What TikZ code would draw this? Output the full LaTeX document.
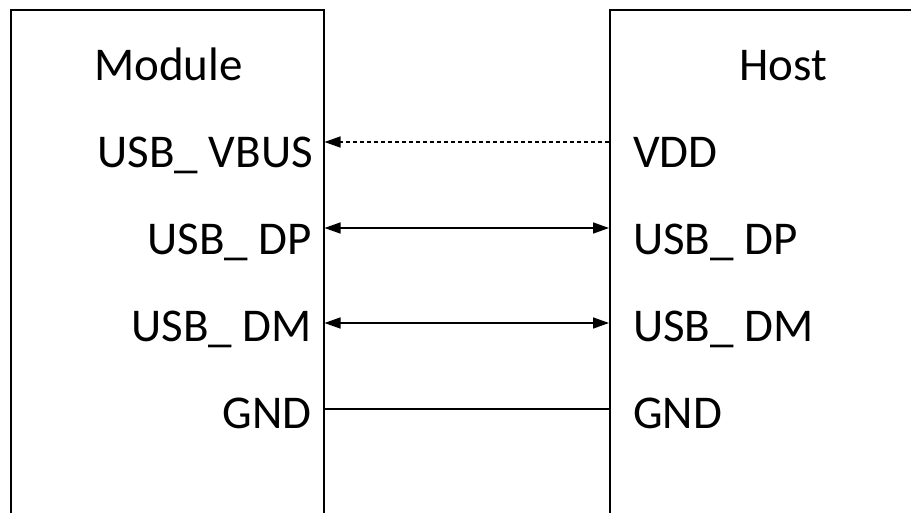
\documentclass[tikz,border=0pt]{standalone}
\usepackage{fontspec}
\setmainfont{Carlito}
\usetikzlibrary{arrows.meta}
\begin{document}
\begin{tikzpicture}[x=1pt,y=-1pt,
  box/.style={draw,line width=1.5pt,rectangle,inner sep=0pt},
  lbl/.style={inner sep=0pt,font=\fontsize{47}{50}\selectfont},
  wire/.style={line width=1.5pt},
  tip/.style={-{Triangle[length=16pt,width=11pt]}},
  both/.style={{Triangle[length=16pt,width=11pt]}-{Triangle[length=16pt,width=11pt]}},
  dashline/.style={dash pattern=on 4.5pt off 2.5pt}]
\useasboundingbox (0,0) rectangle (911,512);
\clip (0,0) rectangle (911,512);
\fill[white] (0,0) rectangle (911,512);
% boxes
\node[box,minimum width=313pt,minimum height=560pt,anchor=north west] (module) at (10,9) {};
\node[box,minimum width=360pt,minimum height=560pt,anchor=north west] (host) at (609,9) {};
% labels
\node[lbl,anchor=base west] (tmod) at (94,80) {Module};
\node[lbl,anchor=base east] (thost) at (827,80) {Host};
\node[lbl,anchor=base east] (lvbus) at (313,167) {USB\_ VBUS};
\node[lbl,anchor=base east] (ldp) at (312,254) {USB\_ DP};
\node[lbl,anchor=base east] (ldm) at (312,341) {USB\_ DM};
\node[lbl,anchor=base east] (lgnd) at (312,428) {GND};
\node[lbl,anchor=base west] (rvdd) at (633,167) {VDD};
\node[lbl,anchor=base west] (rdp) at (633,254) {USB\_ DP};
\node[lbl,anchor=base west] (rdm) at (633,341) {USB\_ DM};
\node[lbl,anchor=base west] (rgnd) at (633,428) {GND};
% connector end points on the box edges
\coordinate (m1) at (module.east |- 0,142);
\coordinate (h1) at (host.west |- 0,142);
\coordinate (m2) at (module.east |- 0,228);
\coordinate (h2) at (host.west |- 0,228);
\coordinate (m3) at (module.east |- 0,323);
\coordinate (h3) at (host.west |- 0,323);
\coordinate (m4) at (module.east |- 0,409);
\coordinate (h4) at (host.west |- 0,409);
% connectors
\draw[wire,tip,dashline] (h1) -- (m1);
\draw[wire,both] (m2) -- (h2);
\draw[wire,both] (m3) -- (h3);
\draw[wire] (m4) -- (h4);
\end{tikzpicture}
\end{document}
